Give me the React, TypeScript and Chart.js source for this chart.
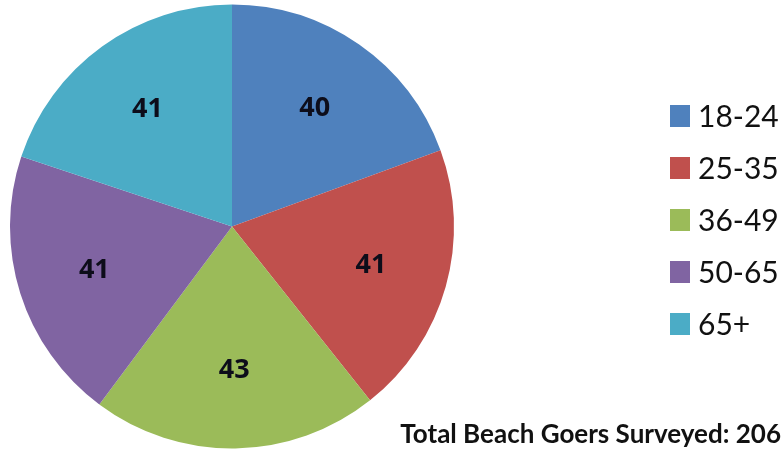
import React, { useEffect, useRef } from "react";
import { Chart, registerables } from "chart.js";

Chart.register(...registerables);

const ageGroups: string[] = ["18-24", "25-35", "36-49", "50-65", "65+"];
const respondents: number[] = [40, 41, 43, 41, 41];
const sliceColors: string[] = ["#4F81BD", "#C0504D", "#9BBB59", "#8064A2", "#4BACC6"];
const totalNote = "Total Beach Goers Surveyed: 206";

const FONT = "Lato, 'Open Sans', 'DejaVu Sans', sans-serif";
const BOLD_FONT = "'Open Sans', Lato, 'DejaVu Sans', sans-serif";

const sliceLabelPlugin = {
  id: "sliceLabels",
  afterDatasetsDraw(chart: any) {
    const ctx = chart.ctx;
    const meta = chart.getDatasetMeta(0);
    const values = chart.data.datasets[0].data as number[];
    ctx.save();
    ctx.font = `bold 27px ${BOLD_FONT}`;
    ctx.fillStyle = "#0d0d1a";
    ctx.textAlign = "center";
    ctx.textBaseline = "middle";
    meta.data.forEach((arc: any, i: number) => {
      const p = arc.getProps(["x", "y", "startAngle", "endAngle", "outerRadius"], true);
      const mid = (p.startAngle + p.endAngle) / 2;
      const r = p.outerRadius * 0.65;
      ctx.fillText(String(values[i]), p.x + Math.cos(mid) * r, p.y + Math.sin(mid) * r);
    });
    ctx.restore();
  },
};

const sideLegendPlugin = {
  id: "sideLegend",
  afterDraw(chart: any) {
    const ctx = chart.ctx;
    const ds = chart.data.datasets[0];
    const names = chart.data.labels as string[];
    ctx.save();
    ctx.textAlign = "left";
    ctx.textBaseline = "middle";
    ctx.font = `30px ${FONT}`;
    names.forEach((name, i) => {
      const cy = 116 + i * 52;
      ctx.fillStyle = ds.backgroundColor[i];
      ctx.fillRect(670, cy - 11, 20, 22);
      ctx.fillStyle = "#111";
      ctx.fillText(name, 698, cy + 1);
    });
    ctx.font = `bold 26px ${FONT}`;
    ctx.textAlign = "right";
    ctx.fillStyle = "#111";
    ctx.fillText(totalNote, 781, 435);
    ctx.restore();
  },
};

const whiteBg = {
  id: "whiteBg",
  beforeDraw(chart: any) {
    const ctx = chart.ctx;
    ctx.save();
    ctx.fillStyle = "#fff";
    ctx.fillRect(0, 0, chart.width, chart.height);
    ctx.restore();
  },
};

export default function App() {
  const ref = useRef<HTMLCanvasElement | null>(null);
  useEffect(() => {
    if (!ref.current) return;
    const chart = new Chart(ref.current, {
      type: "pie",
      data: {
        labels: ageGroups,
        datasets: [
          {
            data: respondents,
            backgroundColor: sliceColors,
            borderWidth: 0,
          },
        ],
      },
      options: {
        responsive: false,
        animation: false,
        layout: { padding: { left: 10, top: 4, right: 329, bottom: 3 } },
        plugins: {
          legend: { display: false },
          tooltip: { enabled: false },
        },
      },
      plugins: [whiteBg, sliceLabelPlugin, sideLegendPlugin],
    });
    return () => chart.destroy();
  }, []);
  return (
    <div style={{ position: "fixed", left: 0, top: 0, width: 783, height: 452, background: "#fff" }}>
      <canvas ref={ref} width={783} height={452} />
    </div>
  );
}
